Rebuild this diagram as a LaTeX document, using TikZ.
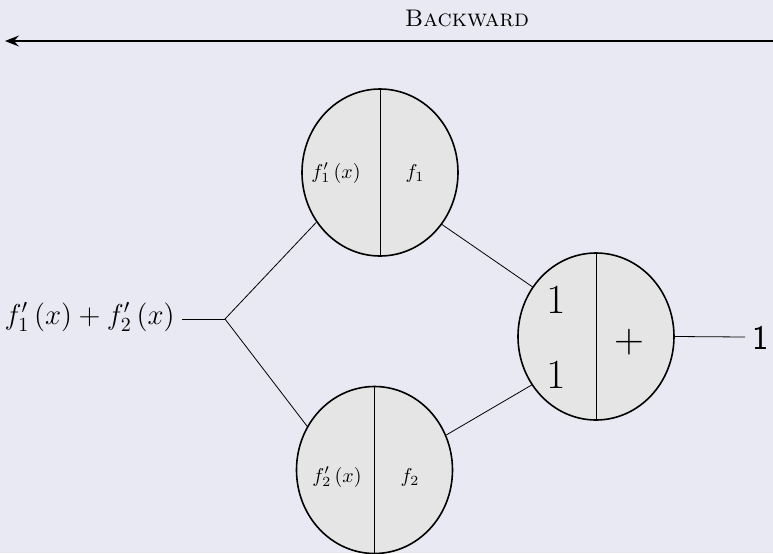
\documentclass[tikz,border=0pt]{standalone}
\usetikzlibrary{shapes.geometric,arrows.meta}
\definecolor{bgc}{RGB}{233,233,243}
\definecolor{nodefill}{RGB}{229,229,229}
\begin{document}
\begin{tikzpicture}[x=0.5pt,y=-0.5pt,
  gate/.style={ellipse,draw,line width=0.8pt,fill=nodefill,minimum width=78pt,minimum height=83.5pt,inner sep=0pt},
  wire/.style={line width=0.4pt},
  lbl/.style={inner sep=0pt}]
\fill[bgc] (0,0) rectangle (773,553);
\useasboundingbox (0,0) rectangle (773,553);
% backward arrow
\coordinate (arrR) at (773,41);
\coordinate (arrL) at (5,41);
\draw[line width=0.6pt,-{Stealth[length=7pt,width=5.5pt,inset=2.5pt]}] (arrR) -- (arrL);
\node[lbl] (bw) at (467,18) {\large\textsc{Backward}};
% gates
\node[gate] (t) at (380,172.5) {};
\node[gate] (b) at (374.5,470) {};
\node[gate] (r) at (596,336.5) {};
\draw[wire] (t.north) -- (t.south);
\draw[wire] (b.north) -- (b.south);
\draw[wire] (r.north) -- (r.south);
\node[lbl] (t1) at (336,173) {$f_1'\left(x\right)$};
\node[lbl] (t2) at (415,173) {$f_1$};
\node[lbl] (b1) at (337,477) {$f_2'\left(x\right)$};
\node[lbl] (b2) at (410,477) {$f_2$};
\node[lbl] (r1) at (556,300) {\huge $1$};
\node[lbl] (r2) at (556,375) {\huge $1$};
\node[lbl] (r3) at (629,342) {\huge $+$};
% input / output
\node[lbl,anchor=east] (in) at (175,317) {\Large $f_1'\left(x\right)+f_2'\left(x\right)$};
\coordinate (j) at (225,319);
\coordinate (o) at (745,337);
\node[lbl,anchor=west] (out) at (752,338) {\LARGE\sffamily 1};
\draw[wire] (182,319) -- (j);
\draw[wire] (j) -- (t.218);
\draw[wire] (j) -- (b.147);
\draw[wire] (t.320) -- (r.142);
\draw[wire] (b.26) -- (r.217);
\draw[wire] (r.east) -- (o);
\end{tikzpicture}
\end{document}
